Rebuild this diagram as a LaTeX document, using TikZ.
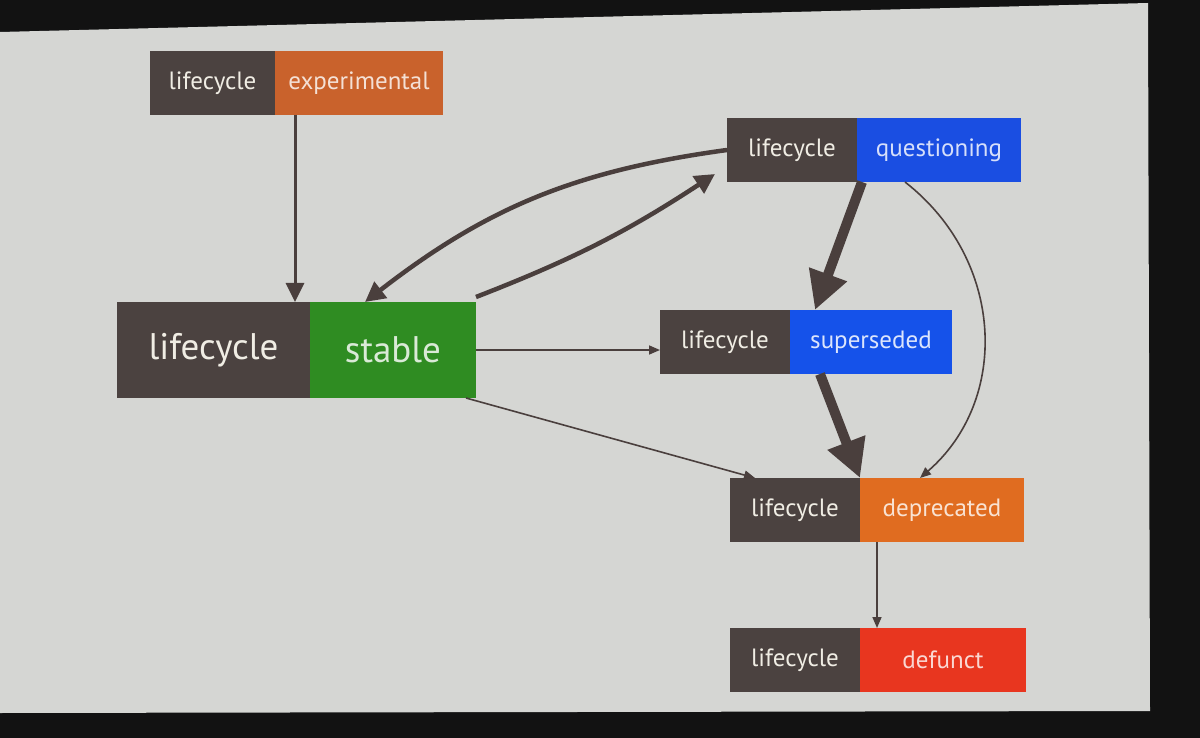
\documentclass[tikz,border=0pt]{standalone}
\usepackage{fontspec}
\setmainfont{PT Sans}
\usetikzlibrary{arrows.meta}
\definecolor{frame}{HTML}{121212}
\definecolor{slide}{HTML}{D5D6D3}
\definecolor{lc}{HTML}{4B4240}
\definecolor{lctext}{HTML}{F0EDE4}
\definecolor{expc}{HTML}{C9622C}
\definecolor{questc}{HTML}{1A4EE2}
\definecolor{stablec}{HTML}{2F8C22}
\definecolor{supc}{HTML}{1552EA}
\definecolor{depc}{HTML}{E06C20}
\definecolor{defc}{HTML}{E8361F}
\definecolor{arr}{HTML}{4A3F3D}
\begin{document}
\begin{tikzpicture}[x=1pt,y=-1pt,
  base/.style={inner sep=0pt, outer sep=0pt, anchor=north west, font=\fontsize{25}{28}\selectfont},
  lcbox/.style={base, fill=lc, text=lctext, minimum width=128pt, minimum height=64pt},
  stbox/.style={base, minimum width=164pt, minimum height=64pt},
  thin/.style={draw=arr, line width=1.6pt, -{Triangle[length=11pt,width=9pt]}},
  medium/.style={draw=arr, line width=3pt, -{Triangle[length=19pt,width=18pt]}},
  bold/.style={draw=arr, line width=4.5pt, -{Triangle[length=20pt,width=20pt]}},
  heavy/.style={draw=arr, line width=10pt, -{Triangle[length=38pt,width=38pt]}}]
\useasboundingbox (0,0) rectangle (1200,738);
\fill[frame] (0,0) rectangle (1200,738);
\fill[slide] (0,32) -- (1148,3) -- (1150,711) -- (0,713) -- cycle;

% experimental
\node[lcbox, minimum width=125pt] (e-l) at (150,51) {lifecycle};
\node[stbox, fill=expc, text=expc!20!white, minimum width=168pt] (e) at (e-l.north east) {experimental};
% questioning
\node[lcbox, minimum width=130pt] (q-l) at (727,118) {lifecycle};
\node[stbox, fill=questc, text=questc!18!white] (q) at (q-l.north east) {questioning};
% stable
\node[lcbox, minimum width=193pt, minimum height=96pt, font=\fontsize{37}{40}\selectfont] (s-l) at (117,302) {lifecycle};
\node[stbox, fill=stablec, text=stablec!18!white, minimum width=166pt, minimum height=96pt, font=\fontsize{37}{40}\selectfont] (s) at (s-l.north east) {stable};
% superseded
\node[lcbox, minimum width=130pt] (ss-l) at (660,310) {lifecycle};
\node[stbox, fill=supc, text=supc!15!white, minimum width=162pt] (ss) at (ss-l.north east) {superseded};
% deprecated
\node[lcbox, minimum width=130pt] (d-l) at (730,478) {lifecycle};
\node[stbox, fill=depc, text=depc!20!white] (d) at (d-l.north east) {deprecated};
% defunct
\node[lcbox, minimum width=130pt] (f-l) at (730,628) {lifecycle};
\node[stbox, fill=defc, text=defc!20!white, minimum width=166pt] (f) at (f-l.north east) {defunct};

% connectors
\draw[medium] ([xshift=20pt]e.south west) -- ([xshift=20pt]e.south west |- s.north);
\draw[bold] (q-l.west) to[bend right=15] ([xshift=55pt]s.north west);
\draw[bold] ([yshift=5pt]s.north east) to[bend right=6] ([xshift=-12pt,yshift=8pt]q-l.south west);
\draw[thin] (s.east) -- (s.east -| ss-l.west);
\draw[thin] ([xshift=-10pt]s.south east) -- ([xshift=25pt]d-l.north west);
\draw[heavy] ([xshift=5pt]q.south west) -- ([xshift=25pt]ss-l.north east);
\draw[heavy] ([xshift=30pt]ss-l.south east) -- (d.north west);
\draw[thin] ([xshift=48pt]q.south west) .. controls (1005,260) and (1010,400) .. ([xshift=60pt]d.north west);
\draw[thin] ([xshift=17pt]d.south west) -- ([xshift=17pt]d.south west |- f.north);
\end{tikzpicture}
\end{document}
